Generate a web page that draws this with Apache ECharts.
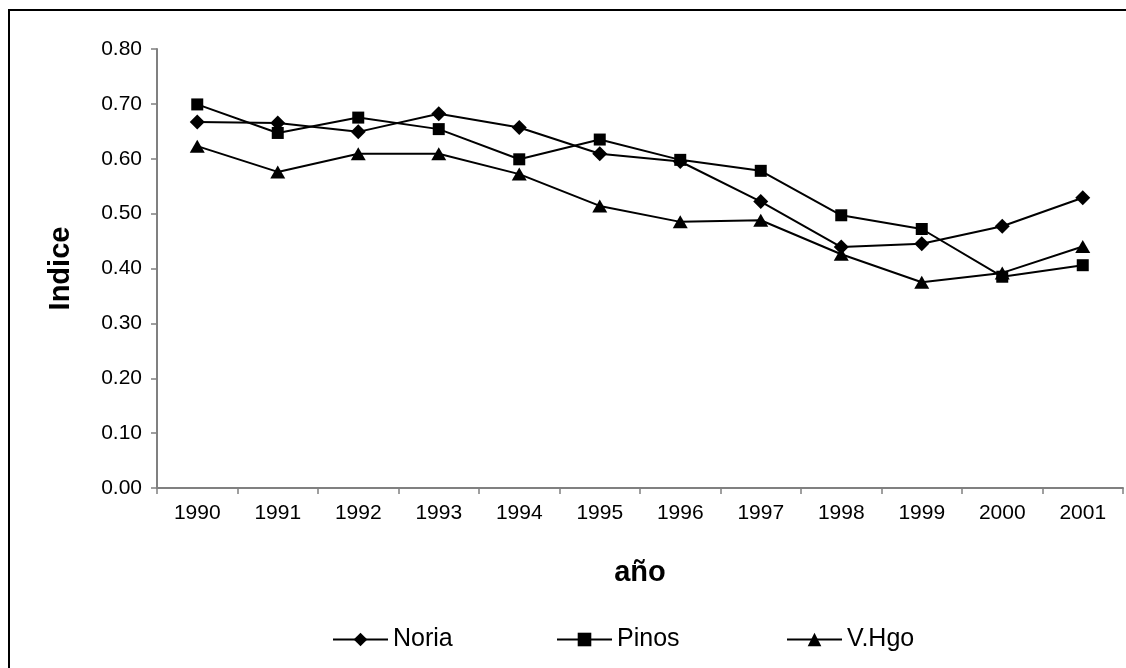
<!DOCTYPE html>
<html>
<head>
<meta charset="utf-8">
<script src="https://cdn.jsdelivr.net/npm/echarts@6/dist/echarts.min.js"></script>
<style>
  html, body { margin: 0; padding: 0; background: #fff; }
  #chart { width: 1126px; height: 668px; }
</style>
</head>
<body>
<div id="chart"></div>
<script>
// Años y valores del índice por localidad
const years = ['1990', '1991', '1992', '1993', '1994', '1995', '1996', '1997', '1998', '1999', '2000', '2001'];
const noria = [0.667, 0.665, 0.649, 0.682, 0.657, 0.609, 0.595, 0.522, 0.439, 0.445, 0.477, 0.529];
const pinos = [0.699, 0.647, 0.675, 0.654, 0.599, 0.635, 0.598, 0.578, 0.497, 0.472, 0.385, 0.406];
const vhgo  = [0.623, 0.576, 0.609, 0.609, 0.572, 0.514, 0.485, 0.488, 0.426, 0.375, 0.392, 0.440];
const yTicks = { min: 0, max: 0.8, interval: 0.1 };

const FONT = '"Liberation Sans", Arial, sans-serif';

const chart = echarts.init(document.getElementById('chart'), null, { renderer: 'canvas' });

function lineSeries(name, data, symbol, size) {
  return {
    name: name,
    type: 'line',
    data: data,
    symbol: symbol,
    symbolSize: size,
    showAllSymbol: true,
    lineStyle: { color: '#000', width: 2 },
    itemStyle: { color: '#000' },
    emphasis: { disabled: true },
    animation: false
  };
}

function legendAt(name, left) {
  return {
    data: [name],
    left: left,
    top: 627,
    itemWidth: 55,
    itemHeight: 17,
    itemGap: 0,
    textStyle: { fontFamily: FONT, fontSize: 25, color: '#000' },
    padding: 0,
    selectedMode: false
  };
}

chart.setOption({
  backgroundColor: '#fff',
  animation: false,
  graphic: [{
    type: 'rect',
    shape: { x: 9, y: 10, width: 1140, height: 680 },
    style: { fill: 'none', stroke: '#000', lineWidth: 2 },
    silent: true
  }],
  grid: { left: 157, right: 3, top: 49, bottom: 180, containLabel: false },
  legend: [
    legendAt('Noria', 332),
    legendAt('Pinos', 556),
    legendAt('V.Hgo', 786)
  ],
  xAxis: {
    type: 'category',
    data: years,
    boundaryGap: true,
    name: 'año',
    nameLocation: 'middle',
    nameGap: 70,
    nameTextStyle: { fontFamily: FONT, fontSize: 29, fontWeight: 'bold', color: '#000' },
    axisLine: { lineStyle: { color: '#808080', width: 2 } },
    axisTick: { show: true, alignWithLabel: false, length: 6, lineStyle: { color: '#808080', width: 1.5 } },
    axisLabel: { fontFamily: FONT, fontSize: 21, color: '#000', margin: 15, interval: 0 },
    splitLine: { show: false }
  },
  yAxis: {
    type: 'value',
    min: yTicks.min,
    max: yTicks.max,
    interval: yTicks.interval,
    name: 'Indice',
    nameLocation: 'middle',
    nameRotate: 90,
    nameGap: 82,
    nameTextStyle: { fontFamily: FONT, fontSize: 29, fontWeight: 'bold', color: '#000' },
    axisLine: { show: true, lineStyle: { color: '#808080', width: 2 } },
    axisTick: { show: true, length: 6, lineStyle: { color: '#808080', width: 1.5 } },
    axisLabel: {
      fontFamily: FONT, fontSize: 21, color: '#000', margin: 15,
      formatter: v => v.toFixed(2)
    },
    splitLine: { show: false }
  },
  series: [
    lineSeries('Noria', noria, 'diamond', [15, 15]),
    lineSeries('Pinos', pinos, 'rect', [12, 12]),
    lineSeries('V.Hgo', vhgo, 'triangle', [15, 13])
  ]
});
</script>
</body>
</html>
